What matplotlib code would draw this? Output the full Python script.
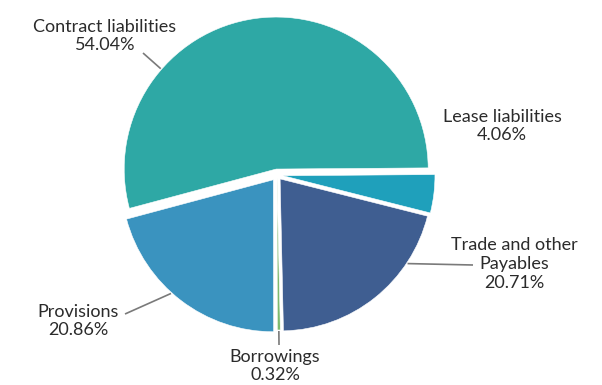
import numpy as np
import matplotlib
matplotlib.use("Agg")
import matplotlib.pyplot as plt

plt.rcParams['font.family'] = ['Lato', 'DejaVu Sans']

# Liability composition (share of total, %)
categories = ["Contract liabilities", "Lease liabilities", "Trade and other\nPayables",
              "Borrowings", "Provisions"]
shares = [54.04, 4.06, 20.71, 0.32, 20.86]
colors = ["#2ea8a5", "#1fa0bb", "#3f5e91", "#7dba6e", "#3a93bf"]

W, H = 602, 385
fig = plt.figure(figsize=(W / 100, H / 100), dpi=100)
ax = fig.add_axes([0, 0, 1, 1])

cx, cy, radius = 277, H - 175, 152
wedges, _ = ax.pie(shares, colors=colors, startangle=195, counterclock=False,
                   radius=radius, center=(cx, cy), explode=[6, 6, 5, 3, 6],
                   wedgeprops=dict(edgecolor="white", linewidth=0.4),
                   frame=True)
ax.set_xlim(0, W)
ax.set_ylim(0, H)
ax.set_aspect("equal")
ax.axis("off")


def edge_point(w, ang, extra=0.0):
    a = np.deg2rad(ang)
    return (w.center[0] + (w.r + extra) * np.cos(a),
            w.center[1] + (w.r + extra) * np.sin(a))


text_kw = dict(ha="center", va="center", fontsize=13, color="#2b2b2b",
               linespacing=1.2)
line_kw = dict(color="#7a7a7a", linewidth=1.2, solid_capstyle="butt")

# label placement: (text centre, leader angle on the wedge, leader end)
layout = {
    0: ((105, H - 36), 139, (143, H - 53)),
    1: ((502, H - 126), None, None),
    2: ((514, H - 264), -33.6, (473, H - 265)),
    3: (None, None, None),
    4: ((78, H - 321), -132, (125, H - 314)),
}

for i, (name, val) in enumerate(zip(categories, shares)):
    label = f"{name}\n{val:.2f}%"
    w = wedges[i]
    pos, ang, end = layout[i]
    if i == 3:
        mid = 0.5 * (w.theta1 + w.theta2)
        p0 = edge_point(w, mid, 1)
        p1 = edge_point(w, mid, 15)
        ax.plot([p0[0], p1[0]], [p0[1], p1[1]], **line_kw)
        ax.text(p1[0] - 4, H - 366, label, **text_kw)
        continue
    if ang is not None:
        p0 = edge_point(w, ang, 1)
        ax.plot([p0[0], end[0]], [p0[1], end[1]], **line_kw)
    ax.text(pos[0], pos[1], label, **text_kw)

fig.savefig("out.png", dpi=100, facecolor="white")
